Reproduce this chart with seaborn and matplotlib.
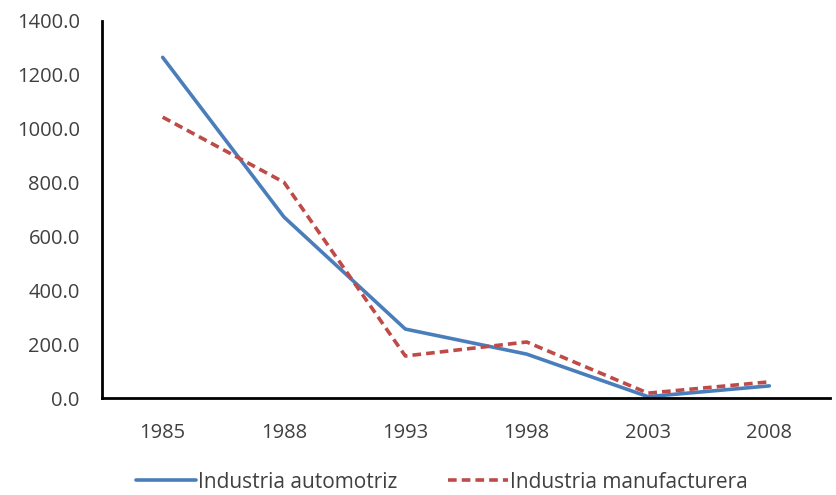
import matplotlib
matplotlib.use("Agg")
import matplotlib.pyplot as plt
from matplotlib.lines import Line2D
import seaborn as sns
import pandas as pd

years = ["1985", "1988", "1993", "1998", "2003", "2008"]
automotriz = [1265, 672, 256, 163, 5, 45]
manufacturera = [1043, 801, 156, 208, 18, 60]
series_names = ["Industria automotriz", "Industria manufacturera"]
y_ticks = [0, 200, 400, 600, 800, 1000, 1200, 1400]

sns.set_theme(style="white")
plt.rcParams["font.family"] = ["Open Sans", "DejaVu Sans"]

df = pd.DataFrame({
    "year": years * 2,
    "value": automotriz + manufacturera,
    "serie": [series_names[0]] * len(years) + [series_names[1]] * len(years),
})
df["pos"] = list(range(len(years))) * 2

fig = plt.figure(figsize=(8.37, 4.95), dpi=100)
ax = fig.add_axes([102 / 837, 1 - 398 / 495, (830 - 102) / 837, (398 - 21) / 495])

blue, red = "#4a7ebb", "#be4b48"
dash = (2.4, 1.4)
palette = {series_names[0]: blue, series_names[1]: red}
sns.lineplot(data=df, x="pos", y="value", hue="serie", style="serie",
             palette=palette, dashes={series_names[0]: "", series_names[1]: dash},
             linewidth=2.6, ax=ax, legend=False)

ax.set_xlim(-0.5, len(years) - 0.5)
ax.set_ylim(0, 1400)
ax.set_xticks(range(len(years)))
ax.set_xticklabels(years)
ax.set_yticks(y_ticks)
ax.set_yticklabels([f"{v:.1f}" for v in y_ticks])
ax.set_xlabel("")
ax.set_ylabel("")
ax.tick_params(axis="both", length=0, labelsize=14.5, colors="#404040")
ax.tick_params(axis="x", pad=18)
ax.tick_params(axis="y", pad=16)
for side in ["top", "right"]:
    ax.spines[side].set_visible(False)
for side in ["left", "bottom"]:
    ax.spines[side].set_color("black")
    ax.spines[side].set_linewidth(2)

handles = [
    Line2D([], [], color=blue, lw=2.6),
    Line2D([], [], color=red, lw=2.6, dashes=dash),
]
fig.legend(handles, series_names, loc="center", bbox_to_anchor=(442 / 837, 1 - 482 / 495),
           ncol=2, frameon=False, fontsize=15, handlelength=2.9, handletextpad=0.1,
           columnspacing=2.4, labelcolor="#404040")

fig.savefig("out.png", dpi=100)
